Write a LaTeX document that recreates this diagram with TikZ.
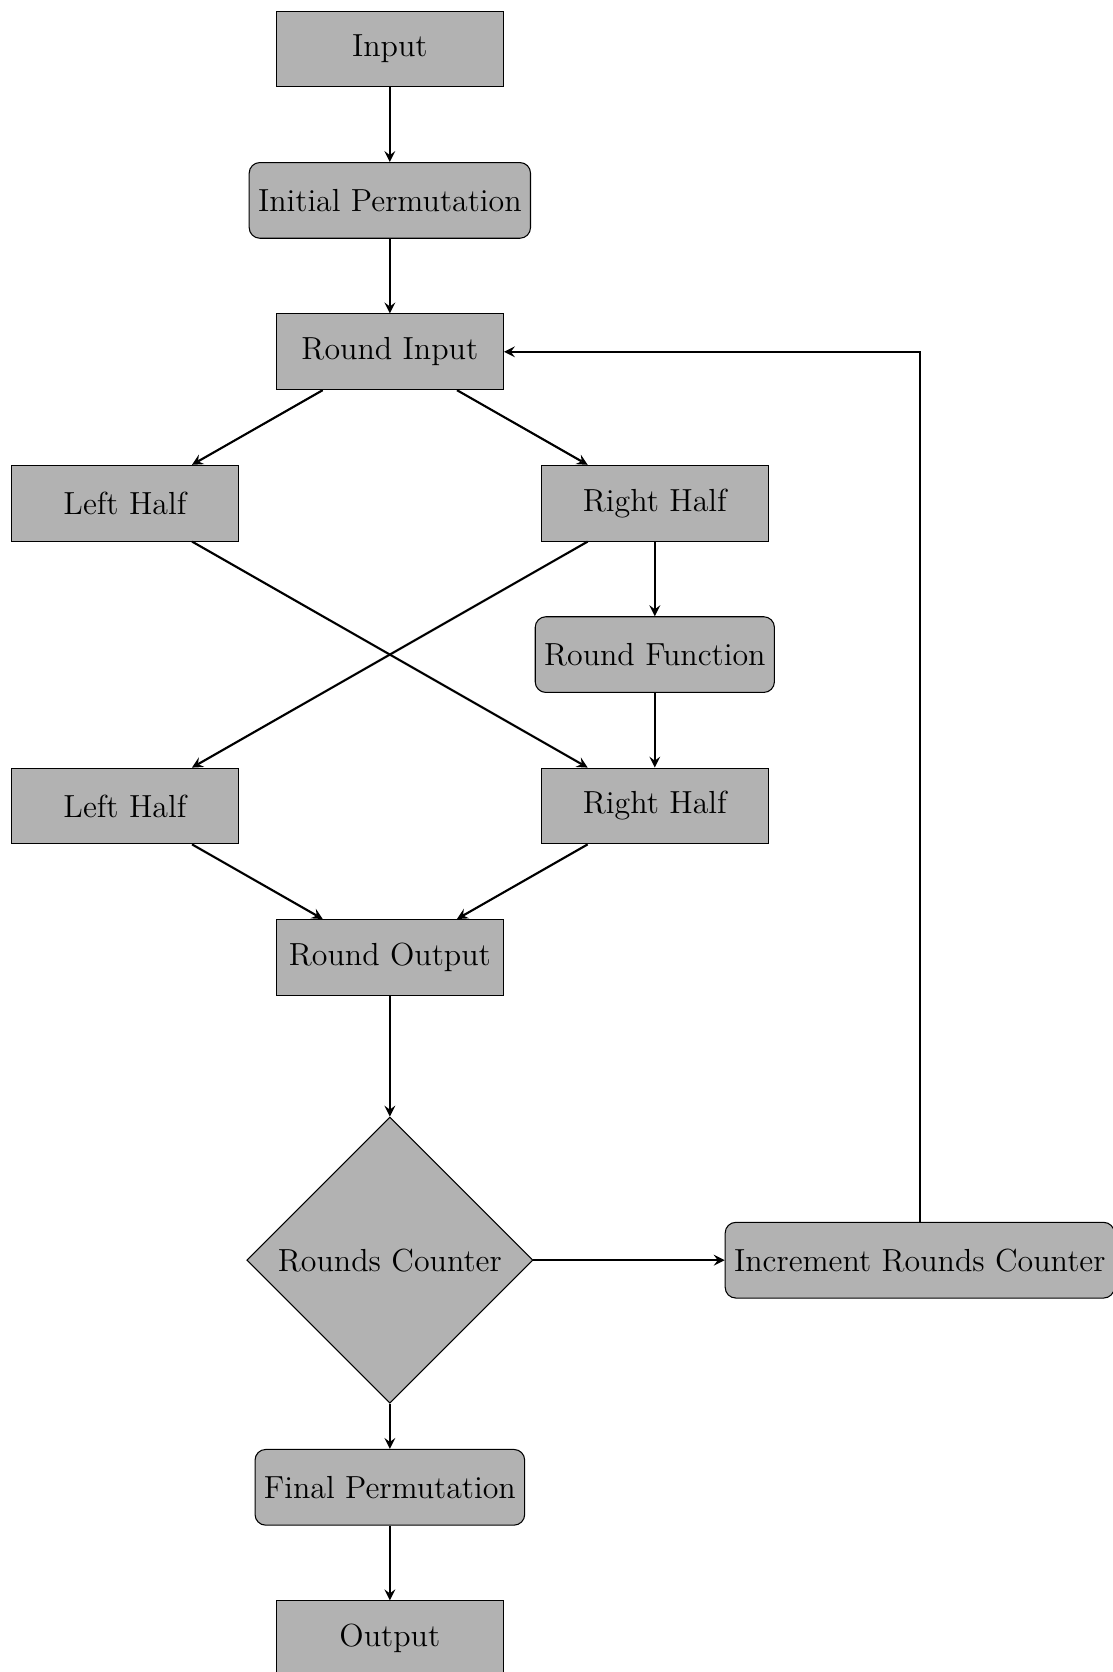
\documentclass[tikz,border=0pt]{standalone}
\usetikzlibrary{shapes.geometric}
\begin{document}
\begin{tikzpicture}[
  font=\large,
  >=stealth,
  block/.style={draw, thin, fill=gray!60, rectangle, minimum width=3cm, minimum height=1cm},
  rblock/.style={block, rounded corners},
  decision/.style={draw, thin, fill=gray!60, diamond, aspect=1, inner sep=1pt, minimum width=3.78cm, minimum height=3.78cm},
  link/.style={->, thick}
]
\useasboundingbox (-5.15,-21.44) rectangle (9.55,0.647);

\node[block]  (in)   at (0,0)     {Input};
\node[rblock] (ip)   at (0,-2)    {Initial Permutation};
\node[block]  (ri)   at (0,-4)    {Round Input};
\node[block]  (lh1)  at (-3.5,-6) {Left Half};
\node[block]  (rh1)  at (3.5,-6)  {Right Half};
\node[rblock] (rf)   at (3.5,-8)  {Round Function};
\node[block]  (lh2)  at (-3.5,-10){Left Half};
\node[block]  (rh2)  at (3.5,-10) {Right Half};
\node[block]  (ro)   at (0,-12)   {Round Output};
\node[decision] (rc) at (0,-16)   {Rounds Counter};
\node[rblock] (inc)  at (7,-16)   {Increment Rounds Counter};
\node[rblock] (fp)   at (0,-19)   {Final Permutation};
\node[block]  (out)  at (0,-21)   {Output};

\draw[link] (in) -- (ip);
\draw[link] (ip) -- (ri);
\draw[link] (ri) -- (lh1);
\draw[link] (ri) -- (rh1);
\draw[link] (rh1) -- (rf);
\draw[link] (lh1) -- (rh2);
\draw[link] (rh1) -- (lh2);
\draw[link] (rf) -- (rh2);
\draw[link] (lh2) -- (ro);
\draw[link] (rh2) -- (ro);
\draw[link] (ro) -- (rc);
\draw[link] (rc) -- (inc);
\draw[link] (inc.north) |- (ri.east);
\draw[link] (rc) -- (fp);
\draw[link] (fp) -- (out);
\end{tikzpicture}
\end{document}
